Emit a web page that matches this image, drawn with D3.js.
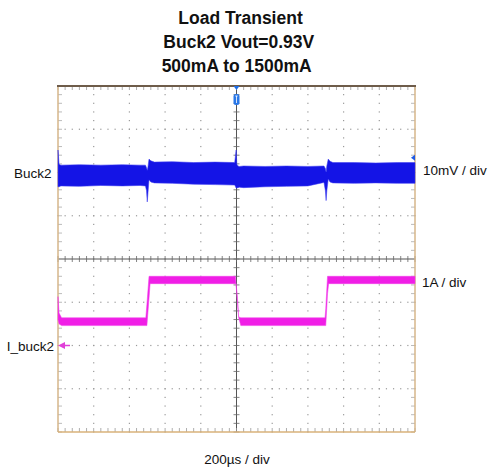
<!DOCTYPE html>
<html>
<head>
<meta charset="utf-8">
<script src="https://cdn.jsdelivr.net/npm/d3@7"></script>
<style>
  html, body { margin: 0; padding: 0; background: #fff; }
  svg { display: block; }
  text { font-family: "Liberation Sans", Arial, sans-serif; fill: #111; }
</style>
</head>
<body>
<svg id="chart" width="490" height="475"></svg>
<script>
// ---------------- DATA ----------------
const titleLines = ["Load Transient", "Buck2 Vout=0.93V", "500mA to 1500mA"];
const channelLabels = ["Buck2", "I_buck2"];
const scaleLabels = ["10mV / div", "1A / div", "200µs / div"];

// Buck2 output voltage envelope (time in divisions, deviation in mV)
const vTime  = [0, 0.03, 0.08, 0.6, 1.2, 1.8, 2.3, 2.45, 2.48, 2.50, 2.52, 2.55, 2.6, 2.7, 3.2, 3.8, 4.4, 4.95, 4.99, 5.01, 5.04, 5.08, 5.2, 5.8, 6.4, 7.0, 7.45, 7.49, 7.51, 7.53, 7.57, 7.62, 7.7, 8.3, 8.9, 9.5, 10];
const vUpper = [5.9, 2.6, 2.4, 2.5, 2.4, 2.5, 2.4, 2.4, 1.8, 1.2, 2.0, 3.8, 3.4, 3.1, 3.2, 3.0, 3.1, 3.0, 5.9, 2.6, 2.2, 2.1, 2.2, 2.1, 2.2, 2.1, 2.2, 1.6, 0.8, 2.2, 3.8, 3.3, 3.0, 3.0, 2.9, 3.0, 3.0];
const vLower = [-2.6, -2.6, -2.4, -2.5, -2.3, -2.4, -2.3, -2.4, -3.5, -6.1, -4.0, -1.0, -1.5, -1.7, -1.8, -2.0, -2.1, -2.2, -2.9, -2.9, -2.8, -2.7, -2.8, -2.6, -2.5, -2.4, -1.6, -3.5, -5.8, -3.5, -0.8, -1.5, -1.7, -1.8, -1.7, -1.8, -1.8];

// Load current envelope (time in divisions, amps)
const iTime  = [0, 0.03, 0.1, 2.46, 2.49, 2.55, 2.58, 4.97, 4.99, 5.03, 5.06, 5.12, 7.48, 7.50, 7.55, 7.58, 10];
const iUpper = [1.13, 0.75, 0.64, 0.64, 0.95, 1.60, 1.60, 1.60, 1.39, 0.96, 0.66, 0.64, 0.64, 0.85, 1.60, 1.60, 1.60];
const iLower = [0.60, 0.50, 0.46, 0.46, 0.46, 1.10, 1.43, 1.43, 1.43, 1.05, 0.65, 0.46, 0.46, 0.46, 1.20, 1.43, 1.43];

// ---------------- LAYOUT ----------------
const svg = d3.select("#chart");
const L = 58, R = 415, T = 86, B = 432;
const x = d3.scaleLinear().domain([0, 10]).range([L, R]);
const yDiv = d3.scaleLinear().domain([-4, 4]).range([B, T]);

const vOffsetDiv = 1.93, vPerDiv = 10;   // mV/div
const iGroundDiv = -2, iPerDiv = 1;      // A/div
const yV = mv => yDiv(vOffsetDiv + mv / vPerDiv);
const yI = a => yDiv(iGroundDiv + a / iPerDiv);

// Title
const titleY = [24, 48, 72];
const titleX = [240.5, 238.8, 236.7];
titleLines.forEach((t, i) => {
  svg.append("text")
    .attr("x", titleX[i]).attr("y", titleY[i])
    .attr("text-anchor", "middle")
    .attr("font-size", 17.5).attr("font-weight", "bold")
    .text(t);
});

// Graticule dots
const g = svg.append("g");
const minorX = d3.range(0, 50 + 1).map(k => k / 5);
const minorY = d3.range(-20, 21).map(k => k / 5);
const majorX = d3.range(1, 10).filter(d => d !== 5);
const majorY = d3.range(-3, 4).filter(d => d !== 0);

majorX.forEach(mx => {
  minorY.forEach(my => {
    g.append("rect").attr("x", x(mx) - 0.6).attr("y", yDiv(my) - 0.6)
      .attr("width", 1.2).attr("height", 1.2).attr("fill", "#9a9a9a");
  });
});
majorY.forEach(my => {
  minorX.forEach(mx => {
    g.append("rect").attr("x", x(mx) - 0.6).attr("y", yDiv(my) - 0.6)
      .attr("width", 1.2).attr("height", 1.2).attr("fill", "#9a9a9a");
  });
});

// Centre axes with ticks
g.append("line").attr("x1", L).attr("x2", R).attr("y1", yDiv(0)).attr("y2", yDiv(0))
  .attr("stroke", "#555").attr("stroke-width", 1);
g.append("line").attr("x1", x(5)).attr("x2", x(5)).attr("y1", T).attr("y2", B)
  .attr("stroke", "#555").attr("stroke-width", 1);
minorX.forEach(mx => {
  g.append("line").attr("x1", x(mx)).attr("x2", x(mx))
    .attr("y1", yDiv(0) - 3).attr("y2", yDiv(0) + 3).attr("stroke", "#666").attr("stroke-width", 0.8);
  g.append("line").attr("x1", x(mx)).attr("x2", x(mx))
    .attr("y1", T).attr("y2", T + 4).attr("stroke", "#999").attr("stroke-width", 0.8);
  g.append("line").attr("x1", x(mx)).attr("x2", x(mx))
    .attr("y1", B - 4).attr("y2", B).attr("stroke", "#999").attr("stroke-width", 0.8);
});
minorY.forEach(my => {
  g.append("line").attr("x1", x(5) - 3).attr("x2", x(5) + 3)
    .attr("y1", yDiv(my)).attr("y2", yDiv(my)).attr("stroke", "#666").attr("stroke-width", 0.8);
  g.append("line").attr("x1", L).attr("x2", L + 4)
    .attr("y1", yDiv(my)).attr("y2", yDiv(my)).attr("stroke", "#aaa").attr("stroke-width", 0.8);
  g.append("line").attr("x1", R - 4).attr("x2", R)
    .attr("y1", yDiv(my)).attr("y2", yDiv(my)).attr("stroke", "#aaa").attr("stroke-width", 0.8);
});

// Frame
g.append("line").attr("x1", L).attr("x2", L).attr("y1", T).attr("y2", B).attr("stroke", "#d6b68a").attr("stroke-width", 1.5);
g.append("line").attr("x1", R).attr("x2", R).attr("y1", T).attr("y2", B).attr("stroke", "#d6b68a").attr("stroke-width", 1.5);
g.append("line").attr("x1", L).attr("x2", R).attr("y1", B).attr("y2", B).attr("stroke", "#d9b27a").attr("stroke-width", 1.5);
g.append("line").attr("x1", L - 1).attr("x2", R + 1).attr("y1", T).attr("y2", T).attr("stroke", "#6e5c4a").attr("stroke-width", 2);

// Voltage trace
const vData = vTime.map((t, i) => ({ t, hi: vUpper[i], lo: vLower[i] }));
const vArea = d3.area().x(d => x(d.t)).y0(d => yV(d.lo)).y1(d => yV(d.hi));
svg.append("path").datum(vData).attr("d", vArea)
  .attr("fill", "#1414e6").attr("stroke", "#3c3cf0").attr("stroke-width", 0.8).attr("stroke-opacity", 0.7);

// Current trace
const iData = iTime.map((t, i) => ({ t, hi: iUpper[i], lo: iLower[i] }));
const iArea = d3.area().x(d => x(d.t)).y0(d => yI(d.lo)).y1(d => yI(d.hi));
svg.append("path").datum(iData).attr("d", iArea)
  .attr("fill", "#f01ee6").attr("stroke", "#f040ea").attr("stroke-width", 0.8).attr("stroke-opacity", 0.7);

// Trigger marker
const tx = x(5);
svg.append("path").attr("d", `M${tx - 3},${T} L${tx + 3},${T} L${tx},${T + 4} Z`).attr("fill", "#1e6ee6");
svg.append("rect").attr("x", tx - 3).attr("y", T + 8).attr("width", 6).attr("height", 11).attr("rx", 2.5)
  .attr("fill", "#2a78e8");
svg.append("line").attr("x1", tx - 1.2).attr("x2", tx + 1.2).attr("y1", T + 10).attr("y2", T + 10).attr("stroke", "#fff").attr("stroke-width", 0.8);
svg.append("line").attr("x1", tx).attr("x2", tx).attr("y1", T + 10).attr("y2", T + 17).attr("stroke", "#fff").attr("stroke-width", 0.8);

// Voltage reference marker on the right edge
const my1 = yDiv(2.34);
svg.append("path").attr("d", `M${R - 4},${my1} L${R},${my1 - 3} L${R},${my1 + 3} Z`).attr("fill", "#1e5ae6");

// Current ground marker on the left edge
const gy = yI(0);
svg.append("path").attr("d", `M${L},${gy} L${L + 7},${gy - 3.5} L${L + 7},${gy + 3.5} Z`).attr("fill", "#e040d8");
svg.append("line").attr("x1", L + 6).attr("x2", L + 12).attr("y1", gy).attr("y2", gy).attr("stroke", "#e040d8").attr("stroke-width", 1.5);

// Labels
svg.append("text").attr("x", 14).attr("y", 178).attr("font-size", 13.5).text(channelLabels[0]);
svg.append("text").attr("x", 54).attr("y", 351).attr("text-anchor", "end").attr("font-size", 13.5).text(channelLabels[1]);
svg.append("text").attr("x", 423).attr("y", 175).attr("font-size", 13.5).text(scaleLabels[0]);
svg.append("text").attr("x", 422).attr("y", 287).attr("font-size", 13.5).text(scaleLabels[1]);
svg.append("text").attr("x", 237).attr("y", 464).attr("text-anchor", "middle").attr("font-size", 13.5).text(scaleLabels[2]);
</script>
</body>
</html>
